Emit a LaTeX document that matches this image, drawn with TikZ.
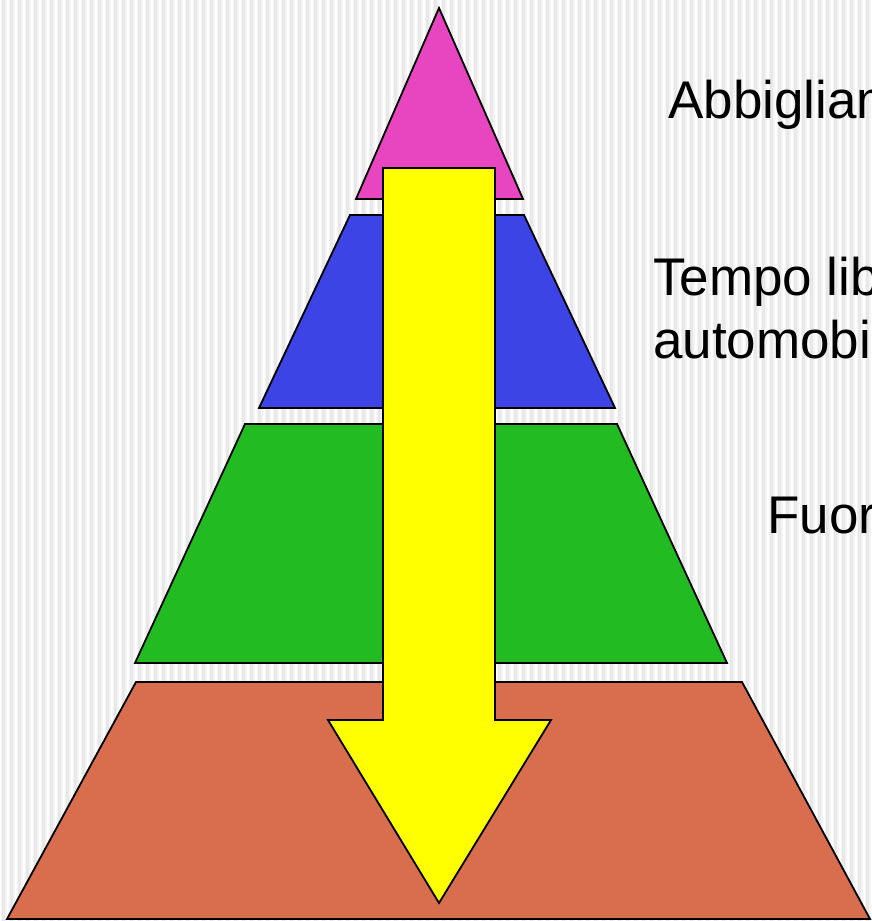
\documentclass[tikz,border=0pt]{standalone}
\usepackage{fontspec}
\setmainfont{Liberation Sans}
\definecolor{stripe}{RGB}{232,232,232}
\definecolor{stripelight}{RGB}{244,244,244}
\definecolor{pinkc}{RGB}{232,69,192}
\definecolor{bluec}{RGB}{60,68,230}
\definecolor{greenc}{RGB}{34,187,34}
\definecolor{orangec}{RGB}{217,110,78}
\definecolor{yellowc}{RGB}{255,255,0}
\begin{document}
\begin{tikzpicture}[x=1pt,y=-1pt,
  layer/.style={draw=black,line width=1.8pt,line join=miter},
  lbl/.style={anchor=base west,inner sep=0pt,font=\fontsize{53}{63}\selectfont}]
\useasboundingbox (0,0) rectangle (872,921);
\begin{scope}
\clip (0,0) rectangle (872,921);
\fill[white] (0,0) rectangle (872,921);
\foreach \k in {0,...,109} {
  \fill[stripelight] ({8*\k+0.5},0) rectangle ({8*\k+6.5},921);
  \fill[stripe] ({8*\k+1.5},0) rectangle ({8*\k+5},921);
}
% pyramid layers
\filldraw[layer,fill=pinkc] (439,8) -- (523,199) -- (356,199) -- cycle;
\filldraw[layer,fill=bluec] (350,215) -- (524,215) -- (615,408) -- (259,408) -- cycle;
\filldraw[layer,fill=greenc] (245,424) -- (617,424) -- (727,663) -- (135,663) -- cycle;
\filldraw[layer,fill=orangec] (136,682) -- (742,682) -- (870,919) -- (7,919) -- cycle;
% arrow
\filldraw[layer,fill=yellowc] (383,168) -- (495,168) -- (495,720) -- (551,720) -- (439,903) -- (328,720) -- (383,720) -- cycle;
% labels
\node[lbl] (t1) at (668,118) {Abbigliamento};
\node[lbl] (t2) at (653,295) {Tempo libero,};
\node[lbl] (t3) at (653,358) {automobili};
\node[lbl] (t4) at (767,533) {Fuori};
\end{scope}
\end{tikzpicture}
\end{document}
